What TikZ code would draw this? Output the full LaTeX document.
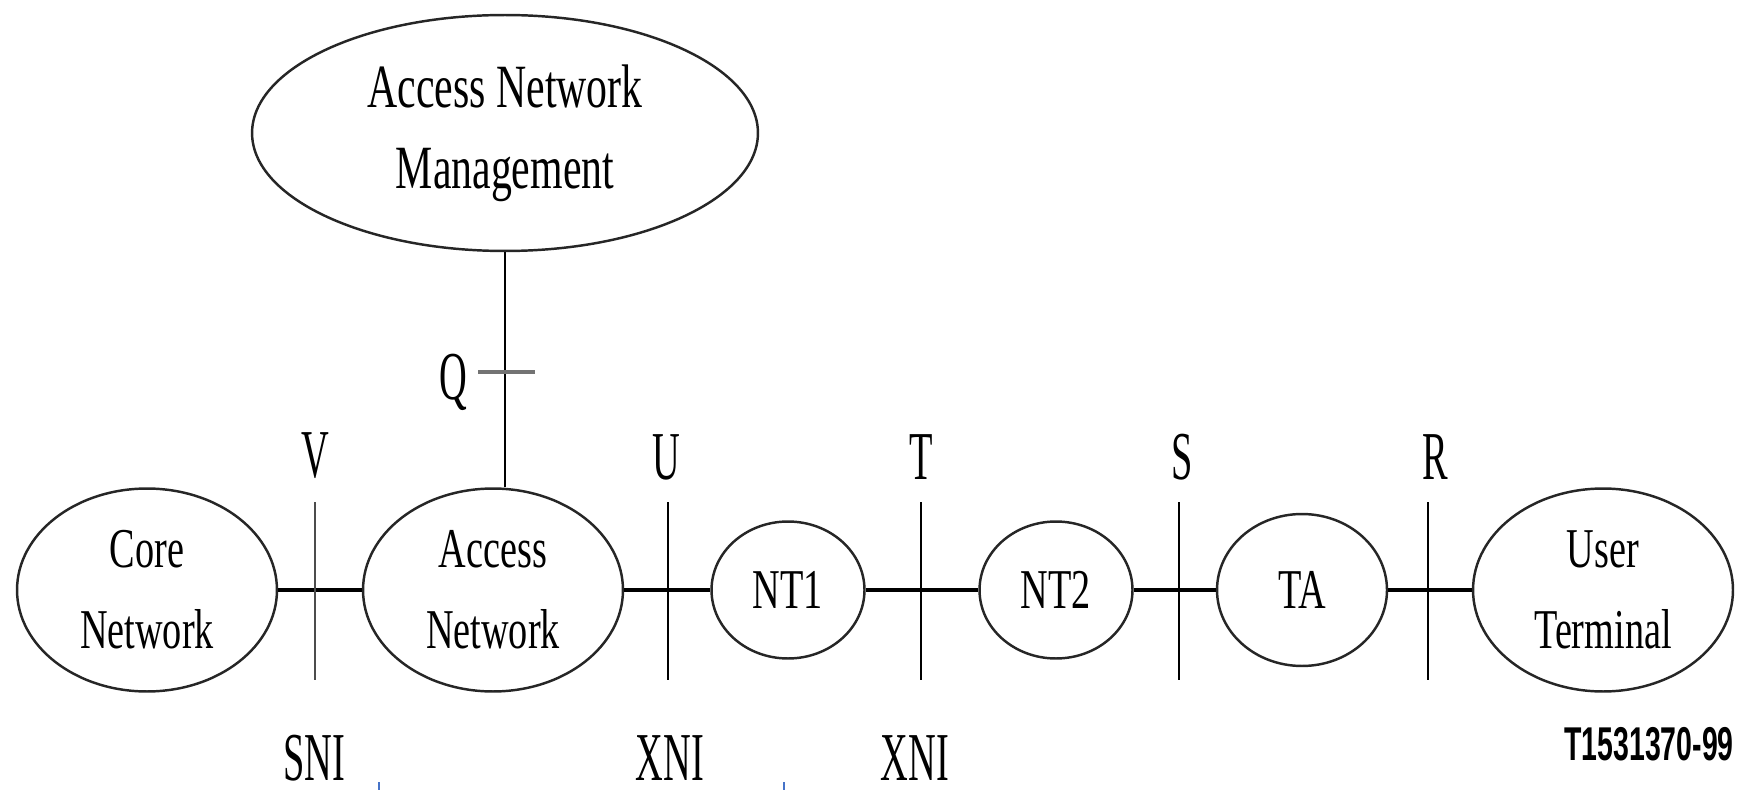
\documentclass[tikz,border=0pt]{standalone}
\usepackage{fontspec}
\setmainfont{Liberation Serif}[FakeStretch=0.68]
\newfontfamily\labelfont{Liberation Serif}[FakeStretch=0.56]
\newfontfamily\figfont{Liberation Sans}[FakeStretch=0.6]
\usetikzlibrary{shapes}
\definecolor{markblue}{RGB}{70,115,200}
\tikzset{
	node_ell/.style = {
		ellipse,
		align=center,
		inner sep=0pt,
		draw=black!85,
		line width=1.4pt,
		font=\fontsize{32}{46}\selectfont
	},
	node_mgmt/.style = {
		node_ell,
		minimum width=10.12cm,
		minimum height=4.72cm,
		font=\fontsize{35}{46}\selectfont
	},
	node_big/.style = {
		node_ell,
		minimum width=5.2cm,
		minimum height=4.06cm
	},
	node_small/.style = {
		node_ell,
		minimum width=3.06cm,
		minimum height=2.74cm
	},
	node_ta/.style = {
		node_ell,
		minimum width=3.4cm,
		minimum height=3.04cm
	},
	node_ref/.style = {
		inner sep=0pt,
		anchor=base,
		font=\labelfont\fontsize{39}{44}\selectfont
	},
	node_id/.style = {
		inner sep=0pt,
		anchor=base,
		font=\figfont\bfseries\fontsize{27}{30}\selectfont
	},
	line_main/.style = {
		line width=2.2pt
	},
	line_if/.style = {
		line width=1.1pt
	},
	line_q/.style = {
		line width=1.8pt,
		black!55
	},
	line_mark/.style = {
		line width=1.2pt,
		markblue
	}
}

\begin{document}
\begin{tikzpicture}[x=0.02cm, y=-0.02cm]
\useasboundingbox (0,0) rectangle (1747,790);

% functional blocks
\node [node_mgmt] (anm) at (505,133) {Access Network\\Management};
\node [node_big] (core) at (147,590) {Core\\Network};
\node [node_big] (an) at (493,590) {Access\\Network};
\node [node_small] (nt1) at (788,590) {NT1};
\node [node_small] (nt2) at (1056,590) {NT2};
\node [node_ta] (ta) at (1302,590) {TA};
\node [node_big] (ut) at (1603,590) {User\\Terminal};

% chain
\draw [line_main] (core) -- (an);
\draw [line_main] (an) -- (nt1);
\draw [line_main] (nt1) -- (nt2);
\draw [line_main] (nt2) -- (ta);
\draw [line_main] (ta) -- (ut);
\draw [line_if] (anm.south) -- (anm.south |- an.north);

% Q reference point
\coordinate (q_l) at (478,372);
\coordinate (q_r) at (535,372);
\draw [line_q] (q_l) -- (q_r);
\node [node_ref] (lbl_q) at (453,399) {Q};

% reference points on the chain
\coordinate (v_top) at (315,502);
\coordinate (v_bot) at (315,680);
\coordinate (u_top) at (668,502);
\coordinate (u_bot) at (668,680);
\coordinate (t_top) at (921,502);
\coordinate (t_bot) at (921,680);
\coordinate (s_top) at (1179,502);
\coordinate (s_bot) at (1179,680);
\coordinate (r_top) at (1428,502);
\coordinate (r_bot) at (1428,680);
\draw [line_if, black!70] (v_top) -- (v_bot);
\draw [line_if] (u_top) -- (u_bot);
\draw [line_if] (t_top) -- (t_bot);
\draw [line_if] (s_top) -- (s_bot);
\draw [line_if] (r_top) -- (r_bot);

\node [node_ref] (lbl_v) at (315,477) {V};
\node [node_ref] (lbl_u) at (666,479) {U};
\node [node_ref] (lbl_t) at (921,479) {T};
\node [node_ref] (lbl_s) at (1182,479) {S};
\node [node_ref] (lbl_r) at (1435,479) {R};

\node [node_ref] (lbl_sni) at (314,780) {SNI};
\node [node_ref] (lbl_xni_a) at (670,780) {XNI};
\node [node_ref] (lbl_xni_b) at (915,780) {XNI};

\node [node_id] (fig_id) at (1649,760) {T1531370-99};

% edge marks
\coordinate (m1_top) at (379,782);
\coordinate (m1_bot) at (379,790);
\coordinate (m2_top) at (784,782);
\coordinate (m2_bot) at (784,790);
\draw [line_mark] (m1_top) -- (m1_bot);
\draw [line_mark] (m2_top) -- (m2_bot);
\end{tikzpicture}
\end{document}
